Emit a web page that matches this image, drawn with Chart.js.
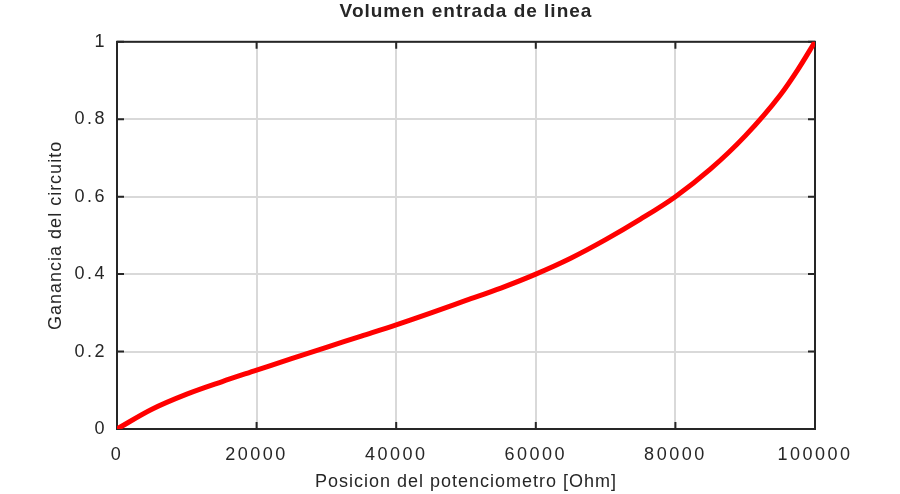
<!DOCTYPE html>
<html>
<head>
<meta charset="utf-8">
<title>Volumen entrada de linea</title>
<script src="https://cdn.jsdelivr.net/npm/chart.js@4/dist/chart.umd.min.js"></script>
<style>
    html, body { margin: 0; padding: 0; background: #fff; }
    #wrap { width: 900px; height: 494px; position: relative; }
</style>
</head>
<body>
<div id="wrap"><canvas id="myChart"></canvas></div>
<script>
// posicion del potenciometro [Ohm] and ganancia
var posicion = [0, 5000, 10000, 15000, 20000, 25000, 30000, 35000, 40000, 45000, 50000,
    55000, 60000, 65000, 70000, 75000, 80000, 85000, 90000, 95000, 97500, 100000]
var ganancia = [0, 0.051, 0.090, 0.122, 0.152, 0.182, 0.211, 0.240, 0.269, 0.300, 0.332,
    0.364, 0.400, 0.441, 0.489, 0.542, 0.600, 0.671, 0.757, 0.862, 0.927, 1.0]

var xTicks = [0, 20000, 40000, 60000, 80000, 100000]
var xTickLabels = ['0', '20000', '40000', '60000', '80000', '100000']
var yTicks = [0, 0.2, 0.4, 0.6, 0.8, 1]
var yTickLabels = ['0', '0.2', '0.4', '0.6', '0.8', '1']

var ink = '#262626'
var gridColor = '#d9d9d9'
var family = '"Liberation Sans", Arial, Helvetica, sans-serif'

var puntos = []
for (var i = 0; i < posicion.length; i++) {
    puntos.push({ x: posicion[i], y: ganancia[i] })
}

// octave style text spacing: titles 1px, tick numbers a bit wider
var spacing = {
    id: 'spacing',
    beforeLayout: function (chart) { chart.ctx.letterSpacing = '1px' },
    beforeDraw: function (chart) { chart.ctx.letterSpacing = '1px' },
    afterDatasetsDraw: function (chart) { chart.ctx.letterSpacing = '2.5px' },
    afterDraw: function (chart) { chart.ctx.letterSpacing = '0px' }
}

// closed box with inward ticks on all sides
var frame = {
    id: 'frame',
    beforeDatasetsDraw: function (chart) {
        var ctx = chart.ctx
        var a = chart.chartArea
        var sx = chart.scales.x
        var sy = chart.scales.y
        var tl = 7
        ctx.save()
        ctx.strokeStyle = ink
        ctx.lineWidth = 2
        ctx.beginPath()
        xTicks.forEach(function (v) {
            var px = sx.getPixelForValue(v)
            ctx.moveTo(px, a.bottom); ctx.lineTo(px, a.bottom - tl)
            ctx.moveTo(px, a.top); ctx.lineTo(px, a.top + tl)
        })
        yTicks.forEach(function (v) {
            var py = sy.getPixelForValue(v)
            ctx.moveTo(a.left, py); ctx.lineTo(a.left + tl, py)
            ctx.moveTo(a.right, py); ctx.lineTo(a.right - tl, py)
        })
        ctx.stroke()
        ctx.strokeRect(a.left, a.top, a.right - a.left, a.bottom - a.top)
        ctx.restore()
    }
}

var chart = new Chart(document.getElementById('myChart').getContext('2d'), {
    type: 'line',
    data: {
        datasets: [{
            label: 'Ganancia',
            data: puntos,
            borderColor: '#ff0000',
            borderWidth: 5,
            pointRadius: 0,
            cubicInterpolationMode: 'monotone',
            borderCapStyle: 'round',
            borderJoinStyle: 'round',
            fill: false
        }]
    },
    options: {
        responsive: true,
        maintainAspectRatio: false,
        animation: false,
        layout: { padding: { left: 0, right: 85, top: 0, bottom: 0 } },
        plugins: {
            legend: { display: false },
            tooltip: { enabled: false },
            title: {
                display: true,
                text: 'Volumen entrada de linea',
                color: ink,
                fullSize: false,
                font: { family: family, size: 19, weight: 'bold' },
                padding: { top: 0, bottom: 19 }
            }
        },
        scales: {
            x: {
                type: 'linear',
                min: 0,
                max: 100000,
                afterBuildTicks: function (scale) {
                    scale.ticks = xTicks.map(function (v) { return { value: v } })
                },
                afterFit: function (scale) { scale.height = 65 },
                ticks: {
                    z: 1,
                    color: ink,
                    padding: 15,
                    maxRotation: 0,
                    font: { family: family, size: 18 },
                    callback: function (value, index) { return xTickLabels[index] }
                },
                grid: { color: gridColor, lineWidth: 2, drawTicks: false },
                border: { display: false },
                title: {
                    display: true,
                    text: 'Posicion del potenciometro [Ohm]',
                    color: ink,
                    font: { family: family, size: 18 },
                    padding: { top: 0, bottom: 1 }
                }
            },
            y: {
                type: 'linear',
                min: 0,
                max: 1,
                afterBuildTicks: function (scale) {
                    scale.ticks = yTicks.map(function (v) { return { value: v } })
                },
                afterFit: function (scale) { scale.width = 117 },
                ticks: {
                    z: 1,
                    color: ink,
                    padding: 10,
                    font: { family: family, size: 18 },
                    callback: function (value, index) { return yTickLabels[index] }
                },
                grid: { color: gridColor, lineWidth: 2, drawTicks: false },
                border: { display: false },
                title: {
                    display: true,
                    text: 'Ganancia del circuito',
                    color: ink,
                    font: { family: family, size: 18 },
                    padding: { top: 45, bottom: 0 }
                }
            }
        }
    },
    plugins: [spacing, frame]
})
</script>
</body>
</html>
